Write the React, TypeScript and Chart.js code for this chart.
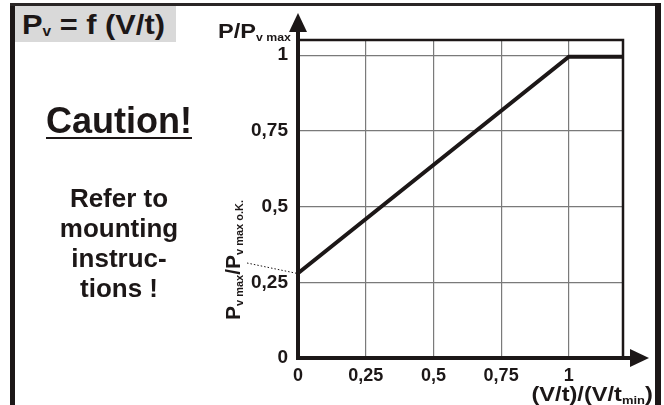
import React, { useEffect, useRef } from "react";
import { Chart, registerables } from "chart.js";

Chart.register(...registerables);

// ---- data ----
const X_VALUES = [0, 1, 1.2];
const Y_VALUES = [0.28, 0.995, 0.995];
const X_TICKS = [0, 0.25, 0.5, 0.75, 1];
const X_TICK_LABELS = ["0", "0,25", "0,5", "0,75", "1"];
const Y_TICKS = [0, 0.25, 0.5, 0.75, 1];
const Y_TICK_LABELS = ["0", "0,25", "0,5", "0,75", "1"];
const X_MAX = 1.2;
const Y_MAX = 1.05;

const INK = "#1c1717";
const GRID = "#7a7a7a";
const FONT = "'Liberation Sans', Arial, Helvetica, sans-serif";

const decorPlugin = {
  id: "decor",
  afterDatasetsDraw(chart: any) {
    const { ctx, chartArea: a, scales } = chart;
    const ys = scales.y;
    ctx.save();
    ctx.strokeStyle = INK;
    ctx.fillStyle = INK;
    // plot frame top & right
    ctx.lineWidth = 2.5;
    ctx.beginPath();
    ctx.moveTo(a.left, a.top);
    ctx.lineTo(a.right, a.top);
    ctx.lineTo(a.right, a.bottom);
    ctx.stroke();
    // axes with arrows
    ctx.lineWidth = 4;
    ctx.beginPath();
    ctx.moveTo(a.left, a.bottom + 2);
    ctx.lineTo(a.left, a.top - 9);
    ctx.stroke();
    ctx.beginPath();
    ctx.moveTo(a.left, a.top - 27);
    ctx.lineTo(a.left - 9, a.top - 8);
    ctx.lineTo(a.left + 9, a.top - 8);
    ctx.closePath();
    ctx.fill();
    ctx.beginPath();
    ctx.moveTo(a.left - 2, a.bottom);
    ctx.lineTo(a.right + 8, a.bottom);
    ctx.stroke();
    ctx.beginPath();
    ctx.moveTo(a.right + 26, a.bottom);
    ctx.lineTo(a.right + 7, a.bottom - 9);
    ctx.lineTo(a.right + 7, a.bottom + 9);
    ctx.closePath();
    ctx.fill();
    // dotted leader from y title to line start
    ctx.lineWidth = 1;
    ctx.setLineDash([1.5, 2]);
    ctx.beginPath();
    ctx.moveTo(247, 263);
    ctx.lineTo(a.left - 2, ys.getPixelForValue(Y_VALUES[0]));
    ctx.stroke();
    ctx.restore();
  },
};

const subStyle = (size: number, shift: number): React.CSSProperties => ({
  fontSize: size,
  verticalAlign: -shift,
  lineHeight: 0,
});

export default function App() {
  const ref = useRef<HTMLCanvasElement | null>(null);

  useEffect(() => {
    if (!ref.current) return;
    const chart = new Chart(ref.current, {
      type: "line",
      data: {
        datasets: [
          {
            data: X_VALUES.map((x, i) => ({ x, y: Y_VALUES[i] })),
            borderColor: INK,
            borderWidth: 4,
            pointRadius: 0,
            tension: 0,
            borderJoinStyle: "miter",
            borderCapStyle: "butt",
          },
        ],
      },
      options: {
        animation: false,
        responsive: false,
        maintainAspectRatio: false,
        layout: { padding: { top: 40, right: 41, left: 0, bottom: 0 } },
        plugins: { legend: { display: false }, tooltip: { enabled: false } },
        scales: {
          x: {
            type: "linear",
            min: 0,
            max: X_MAX,
            afterBuildTicks: (s: any) => {
              s.ticks = X_TICKS.map((v) => ({ value: v }));
            },
            afterFit: (s: any) => {
              s.height = 47;
            },
            grid: { color: GRID, lineWidth: 1.2, drawTicks: false },
            border: { display: true, color: INK, width: 4 },
            ticks: {
              padding: 7,
              color: INK,
              maxRotation: 0,
              autoSkip: false,
              font: { family: FONT, size: 18, weight: "bold" },
              callback: (v: any) => X_TICK_LABELS[X_TICKS.indexOf(Number(v))],
            },
          },
          y: {
            type: "linear",
            min: 0,
            max: Y_MAX,
            afterBuildTicks: (s: any) => {
              s.ticks = Y_TICKS.map((v) => ({ value: v }));
            },
            afterFit: (s: any) => {
              s.width = 298;
            },
            grid: { color: GRID, lineWidth: 1.2, drawTicks: false },
            border: { display: true, color: INK, width: 4 },
            ticks: {
              padding: 10,
              color: INK,
              autoSkip: false,
              font: { family: FONT, size: 19, weight: "bold" },
              callback: (v: any) => Y_TICK_LABELS[Y_TICKS.indexOf(Number(v))],
            },
          },
        },
      },
      plugins: [decorPlugin],
    } as any);
    return () => chart.destroy();
  }, []);

  const txt: React.CSSProperties = {
    position: "absolute",
    fontFamily: FONT,
    fontWeight: "bold",
    color: INK,
    whiteSpace: "nowrap",
  };

  return (
    <div
      style={{
        position: "absolute",
        left: 0,
        top: 0,
        width: 664,
        height: 405,
        overflow: "hidden",
        background: "#ffffff",
      }}
    >
      <canvas
        ref={ref}
        width={664}
        height={405}
        style={{ position: "absolute", left: 0, top: 0, width: 664, height: 405 }}
      />
      {/* outer frame */}
      <div style={{ position: "absolute", left: 10, top: 3, width: 5, height: 402, background: INK }} />
      <div style={{ position: "absolute", left: 10, top: 3, width: 651, height: 3, background: "#2a2626" }} />
      <div style={{ position: "absolute", left: 655, top: 3, width: 6, height: 402, background: INK }} />
      {/* title box */}
      <div style={{ position: "absolute", left: 15, top: 6, width: 161, height: 36, background: "#d9d9d9" }} />
      <div
        style={{
          ...txt,
          left: 22,
          top: 11,
          fontSize: 28,
          lineHeight: "28px",
          transform: "scaleX(1.1)",
          transformOrigin: "left center",
        }}
      >
        P<span style={subStyle(14, 2)}>v</span> = f (V/t)
      </div>
      {/* caution */}
      <div style={{ ...txt, left: 19, top: 104.5, width: 200, textAlign: "center", fontSize: 36, lineHeight: "32px" }}>
        <span style={{ display: "inline-block", borderBottom: `2.5px solid ${INK}` }}>Caution!</span>
      </div>
      <div
        style={{
          ...txt,
          left: 19,
          top: 183,
          width: 200,
          textAlign: "center",
          fontSize: 26,
          lineHeight: "30px",
          whiteSpace: "normal",
        }}
      >
        Refer to
        <br />
        mounting
        <br />
        instruc-
        <br />
        tions !
      </div>
      {/* y axis top title */}
      <div
        style={{
          ...txt,
          left: 218,
          top: 19.7,
          fontSize: 21,
          lineHeight: "22px",
          transform: "scaleX(1.12)",
          transformOrigin: "left center",
        }}
      >
        P/P<span style={subStyle(11, 3)}>v max</span>
      </div>
      {/* rotated y title */}
      <div
        style={{
          ...txt,
          left: 232.7,
          top: 260,
          fontSize: 21,
          lineHeight: "22px",
          transform: "translate(-50%, -50%) rotate(-90deg)",
        }}
      >
        P<span style={subStyle(11, 3)}>v max</span>/P<span style={subStyle(11, 3)}>v max o.K.</span>
      </div>
      {/* x title */}
      <div
        style={{
          ...txt,
          right: 11,
          top: 384,
          fontSize: 20,
          lineHeight: "20px",
          transform: "scaleX(1.18)",
          transformOrigin: "right center",
        }}
      >
        (V/t)/(V/t<span style={subStyle(11, 3)}>min</span>)
      </div>
    </div>
  );
}
